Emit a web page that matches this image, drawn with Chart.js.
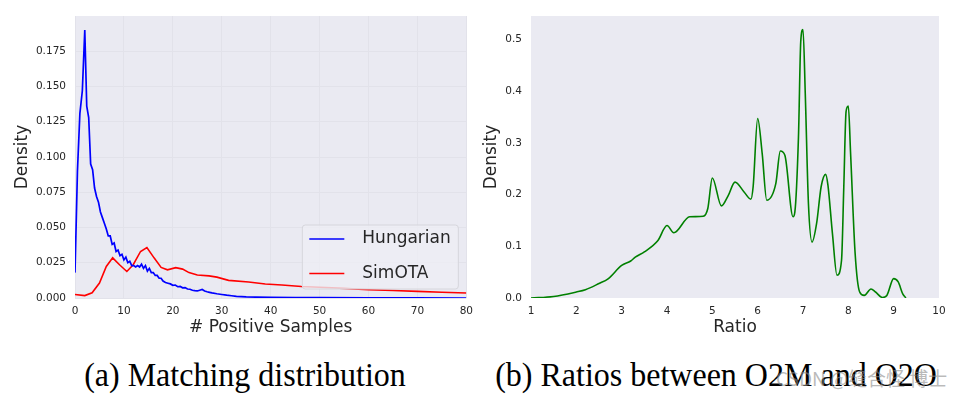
<!DOCTYPE html>
<html>
<head>
<meta charset="utf-8">
<script src="https://cdn.jsdelivr.net/npm/chart.js@4"></script>
<style>
  body { margin: 0; background: #fff; width: 968px; height: 397px; overflow: hidden; position: relative; }
  .box { position: absolute; top: 0; height: 345px; }
  .cap { position: absolute; top: 356px; font-family: "Liberation Serif", serif; font-size: 32px; color: #000; white-space: nowrap; transform: translateX(-50%) scaleY(1.08); }
  #mark { position: absolute; left: 776px; top: 364px; font-family: "Noto Sans CJK SC", sans-serif; font-size: 19px; color: rgba(140,140,140,0.6); white-space: nowrap; }
</style>
</head>
<body>
<div class="box" style="left:0; width:480px;"><canvas id="myChart"></canvas></div>
<div class="box" style="left:480px; width:488px;"><canvas id="myChart2"></canvas></div>
<div class="cap" style="left:245px;">(a) Matching distribution</div>
<div class="cap" style="left:716px;">(b) Ratios between O2M and O2O</div>
<div id="mark">CSDN @缝合怪 博士</div>
<script>
"use strict";

// (a) antal positiva samples
const hungX = [0, 0.5, 1, 1.5, 2, 2.4, 2.8, 3.2, 3.6, 4, 4.4, 4.8, 5.2, 5.6, 6, 6.4, 6.8, 7.2, 7.6, 8, 8.4, 8.8, 9.2, 9.6, 10, 10.4, 10.8, 11.2, 11.6, 12, 12.4, 12.8, 13.2, 13.6, 14, 14.4, 14.8, 15.2, 15.6, 16, 16.4, 16.8, 17.2, 17.6, 18, 18.5, 19, 19.5, 20, 20.5, 21, 21.5, 22, 22.5, 23, 23.5, 24, 24.5, 25, 25.5, 26, 26.5, 27, 27.5, 28, 29, 30, 31, 32, 33, 34, 35, 37, 40, 45, 50, 60, 70, 80];
const hungY = [0.018, 0.090, 0.131, 0.147, 0.190, 0.136, 0.128, 0.095, 0.091, 0.078, 0.072, 0.068, 0.061, 0.057, 0.053, 0.049, 0.044, 0.044, 0.038, 0.039, 0.033, 0.034, 0.030, 0.031, 0.027, 0.029, 0.025, 0.026, 0.023, 0.023, 0.022, 0.023, 0.022, 0.024, 0.021, 0.023, 0.019, 0.021, 0.018, 0.018, 0.016, 0.016, 0.014, 0.014, 0.012, 0.011, 0.0105, 0.010, 0.009, 0.0092, 0.008, 0.0082, 0.0072, 0.0074, 0.0064, 0.0062, 0.0055, 0.0052, 0.0050, 0.0055, 0.0060, 0.0050, 0.0044, 0.0040, 0.0036, 0.0030, 0.0025, 0.0020, 0.0016, 0.0012, 0.0010, 0.0008, 0.0006, 0.0004, 0.0003, 0.0002, 0.0001, 0.0001, 0.0];

const simX = [0, 2, 3.5, 5, 6.4, 7.7, 9.1, 10.6, 11.9, 13.4, 14.7, 16.2, 17.6, 18.9, 20.6, 22, 23.3, 25, 27.4, 29, 31.4, 35.5, 38.9, 42.3, 46.3, 50, 55, 60, 65, 70, 75, 80];
const simY = [0.0025, 0.0017, 0.0037, 0.0106, 0.0224, 0.0285, 0.0236, 0.0188, 0.0236, 0.0330, 0.0358, 0.0283, 0.0217, 0.0200, 0.0215, 0.0205, 0.0180, 0.0163, 0.0157, 0.0148, 0.0125, 0.0113, 0.0099, 0.0092, 0.0082, 0.0076, 0.0068, 0.0059, 0.0053, 0.0047, 0.0041, 0.0035];

// (b) kvoter O2M / O2O
const ratioX = [1, 1.5, 2, 2.2, 2.5, 2.7, 3, 3.2, 3.3, 3.5, 3.8, 4, 4.15, 4.5, 4.8, 4.9, 5, 5.2, 5.35, 5.5, 5.7, 5.85, 5.9, 6, 6.1, 6.2, 6.4, 6.5, 6.6, 6.78, 6.82, 6.9, 6.95, 7, 7.05, 7.12, 7.2, 7.3, 7.4, 7.5, 7.55, 7.65, 7.75, 7.85, 7.9, 7.95, 8, 8.05, 8.15, 8.25, 8.35, 8.5, 8.6, 8.75, 8.85, 9, 9.1, 9.2, 9.27];
const ratioY = [0, 0.003, 0.0116, 0.016, 0.028, 0.037, 0.063, 0.0715, 0.079, 0.089, 0.111, 0.140, 0.126, 0.157, 0.158, 0.173, 0.232, 0.178, 0.198, 0.224, 0.205, 0.191, 0.215, 0.347, 0.279, 0.189, 0.221, 0.284, 0.276, 0.157, 0.166, 0.311, 0.495, 0.519, 0.395, 0.182, 0.108, 0.144, 0.215, 0.239, 0.218, 0.124, 0.044, 0.073, 0.215, 0.360, 0.371, 0.279, 0.086, 0.0116, 0.005, 0.0174, 0.0116, 0.001, 0.005, 0.0374, 0.031, 0.008, 0];

const xTicksA = [0, 10, 20, 30, 40, 50, 60, 70, 80];
const yTicksA = [0, 0.025, 0.05, 0.075, 0.1, 0.125, 0.15, 0.175];
const xTicksB = [1, 2, 3, 4, 5, 6, 7, 8, 9, 10];
const yTicksB = [0, 0.1, 0.2, 0.3, 0.4, 0.5];

const pts = (xs, ys) => xs.map((x, i) => ({ x: x, y: ys[i] }));
const textCol = "#262626";
const tickFont = { family: "DejaVu Sans", size: 10.5 };
const titleFont = { family: "DejaVu Sans", size: 17 };

const bgPlugin = {
    id: "bg",
    beforeDraw(chart) {
        const a = chart.chartArea;
        chart.ctx.save();
        chart.ctx.fillStyle = "#EAEAF2";
        chart.ctx.fillRect(a.left, a.top, a.right - a.left, a.bottom - a.top);
        chart.ctx.restore();
    }
};

const legendPlugin = {
    id: "boxLegend",
    afterDatasetsDraw(chart) {
        const a = chart.chartArea;
        const ctx = chart.ctx;
        const w = 156, h = 64;
        const x0 = a.right - 8 - w, y0 = a.bottom - 9 - h;
        ctx.save();
        ctx.beginPath();
        ctx.roundRect(x0, y0, w, h, 3);
        ctx.fillStyle = "rgba(238,238,244,0.8)";
        ctx.fill();
        ctx.strokeStyle = "#d6d6dc";
        ctx.lineWidth = 1;
        ctx.stroke();
        ctx.font = "17px 'DejaVu Sans'";
        ctx.textBaseline = "middle";
        chart.data.datasets.forEach((ds, i) => {
            const y = y0 + 14 + i * 34.5;
            ctx.strokeStyle = ds.borderColor;
            ctx.lineWidth = 1.5;
            ctx.beginPath();
            ctx.moveTo(x0 + 7, y);
            ctx.lineTo(x0 + 42, y);
            ctx.stroke();
            ctx.fillStyle = textCol;
            ctx.fillText(ds.label, x0 + 60, y);
        });
        ctx.restore();
    }
};

function fixTicks(list) {
    return function (scale) {
        scale.ticks = list.map(v => ({ value: v }));
    };
}

const chartDiv = document.getElementById("myChart");

new Chart(chartDiv, {
    type: "line",
    data: {
        datasets: [{
            label: "Hungarian",
            data: pts(hungX, hungY),
            borderColor: "blue",
            borderWidth: 1.7,
            pointRadius: 0,
            tension: 0
        }, {
            label: "SimOTA",
            data: pts(simX, simY),
            borderColor: "red",
            borderWidth: 1.6,
            pointRadius: 0,
            tension: 0
        }]
    },
    options: {
        responsive: true,
        maintainAspectRatio: false,
        animation: false,
        layout: { padding: { top: 16, right: 11, left: 0, bottom: 0 } },
        plugins: { legend: { display: false }, tooltip: { enabled: false } },
        scales: {
            x: {
                type: "linear",
                min: 0,
                max: 80,
                afterBuildTicks: fixTicks(xTicksA),
                afterFit(scale) { scale.height = 47; },
                border: { display: false },
                grid: { color: "#e2e2ea", borderDash: [1.5, 2.5], drawTicks: false },
                ticks: { color: textCol, font: tickFont, padding: 7, maxRotation: 0 },
                title: { display: true, text: "# Positive Samples", color: textCol, font: titleFont, padding: { top: 0, bottom: 7 } }
            },
            y: {
                min: 0,
                max: 0.2,
                afterBuildTicks: fixTicks(yTicksA),
                afterFit(scale) { scale.width = 75; },
                border: { display: false },
                grid: { color: "#e2e2ea", borderDash: [1.5, 2.5], drawTicks: false },
                ticks: { color: textCol, font: tickFont, padding: 9, callback: v => v.toFixed(3) },
                title: { display: true, text: "Density", color: textCol, font: titleFont, padding: { top: 12.5, bottom: 0 } }
            }
        }
    },
    plugins: [bgPlugin, legendPlugin]
});

const chartDiv2 = document.getElementById("myChart2");

new Chart(chartDiv2, {
    type: "line",
    data: {
        datasets: [{
            label: "Ratio",
            data: pts(ratioX, ratioY),
            borderColor: "green",
            borderWidth: 1.6,
            pointRadius: 0,
            cubicInterpolationMode: "monotone"
        }]
    },
    options: {
        responsive: true,
        maintainAspectRatio: false,
        animation: false,
        layout: { padding: { top: 16, right: 29, left: 0, bottom: 0 } },
        plugins: { legend: { display: false }, tooltip: { enabled: false } },
        scales: {
            x: {
                type: "linear",
                min: 1,
                max: 10,
                afterBuildTicks: fixTicks(xTicksB),
                afterFit(scale) { scale.height = 47; },
                border: { display: false },
                grid: { display: false, drawTicks: false },
                ticks: { color: textCol, font: tickFont, padding: 7, maxRotation: 0 },
                title: { display: true, text: "Ratio", color: textCol, font: titleFont, padding: { top: 0, bottom: 7 } }
            },
            y: {
                min: 0,
                max: 0.545,
                afterBuildTicks: fixTicks(yTicksB),
                afterFit(scale) { scale.width = 51; },
                border: { display: false },
                grid: { display: false, drawTicks: false },
                ticks: { color: textCol, font: tickFont, padding: 9, callback: v => v.toFixed(1) },
                title: { display: true, text: "Density", color: textCol, font: titleFont, padding: { top: 1.5, bottom: 0 } }
            }
        }
    },
    plugins: [bgPlugin]
});
</script>
</body>
</html>
